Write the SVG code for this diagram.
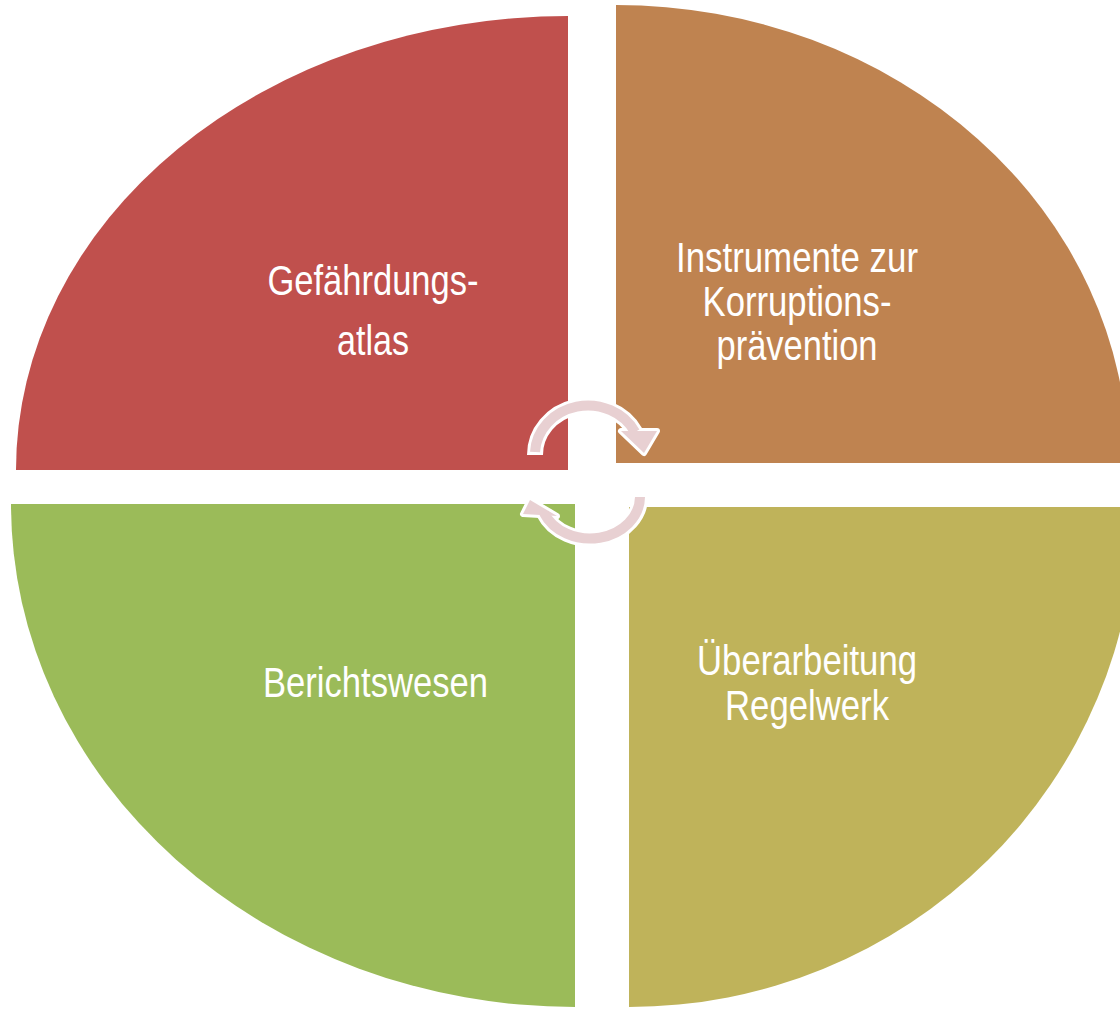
<svg xmlns="http://www.w3.org/2000/svg" width="1120" height="1010" viewBox="0 0 1120 1010">
  <style>
    .lbl { font-family: "Liberation Sans", Arial, sans-serif; font-size: 43px; fill: #FFFFFF; text-anchor: middle; }
    .arcW { fill: none; stroke: #FFFFFF; stroke-width: 16; }
    .arcP { fill: none; stroke: #E8D0D2; stroke-width: 10; }
    .headW { fill: #FFFFFF; stroke: #FFFFFF; stroke-width: 6; stroke-linejoin: round; }
    .headP { fill: #E8D0D2; }
  </style>
  <rect width="1120" height="1010" fill="#FFFFFF"/>
  <g id="node-gefaehrdungsatlas">
    <path d="M 568 470 L 16 470 A 552 454 0 0 1 568 16 Z" fill="#C0504D"/>
    <text class="lbl" x="373" y="295" textLength="211" lengthAdjust="spacingAndGlyphs">Gefährdungs-</text>
    <text class="lbl" x="373" y="355" textLength="72" lengthAdjust="spacingAndGlyphs">atlas</text>
  </g>
  <g id="node-instrumente">
    <path d="M 616 463 L 616 5 A 512 458 0 0 1 1128 463 Z" fill="#BF8350"/>
    <text class="lbl" x="797" y="272" textLength="242" lengthAdjust="spacingAndGlyphs">Instrumente zur</text>
    <text class="lbl" x="797" y="316" textLength="189" lengthAdjust="spacingAndGlyphs">Korruptions-</text>
    <text class="lbl" x="797" y="360" textLength="161" lengthAdjust="spacingAndGlyphs">prävention</text>
  </g>
  <g id="node-berichtswesen">
    <path d="M 575 504 L 575 1007 A 564 503 0 0 1 11 504 Z" fill="#9BBB59"/>
    <text class="lbl" x="375.5" y="697" textLength="225" lengthAdjust="spacingAndGlyphs">Berichtswesen</text>
  </g>
  <g id="node-ueberarbeitung">
    <path d="M 629 507 L 1136 507 A 507 500 0 0 1 629 1007 Z" fill="#BFB35A"/>
    <text class="lbl" x="807" y="675" textLength="220" lengthAdjust="spacingAndGlyphs">Überarbeitung</text>
    <text class="lbl" x="807" y="720" textLength="164" lengthAdjust="spacingAndGlyphs">Regelwerk</text>
  </g>
  <g id="connectors">
    <path class="arcW" d="M 535 455 A 53 49 0 0 1 635 432"/>
    <polygon class="headW" points="621,431 657,431 644,453"/>
    <path class="arcP" d="M 535 452 A 53 49 0 0 1 635 432"/>
    <polygon class="headP" points="621,431 657,431 644,453"/>
    <path class="arcW" d="M 640 494 A 50 42 0 0 1 544 513"/>
    <polygon class="headW" points="523,514 557,516 530,500"/>
    <path class="arcP" d="M 640 497 A 50 42 0 0 1 544 513"/>
    <polygon class="headP" points="523,514 557,516 530,500"/>
  </g>
</svg>
